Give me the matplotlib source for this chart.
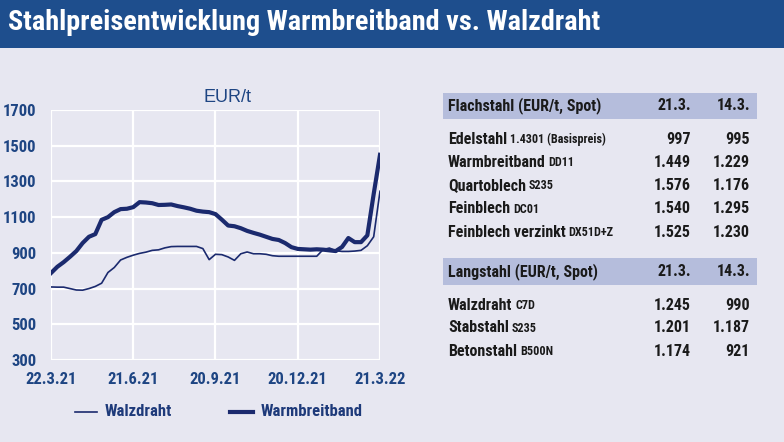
import matplotlib
matplotlib.use("Agg")
import matplotlib.pyplot as plt
from matplotlib.lines import Line2D

# ---------------- data ----------------
days = list(range(0, 365, 7))  # weekly from 22.3.21 to 21.3.22
warmbreitband = [787, 822, 848, 878, 910, 955, 990, 1005, 1085, 1100, 1128, 1145,
                 1147, 1156, 1184, 1182, 1178, 1168, 1169, 1171, 1162, 1155, 1147,
                 1136, 1131, 1128, 1117, 1086, 1053, 1049, 1038, 1023, 1012, 1002,
                 990, 978, 972, 955, 932, 922, 920, 918, 920, 918, 914, 910, 933,
                 983, 960, 960, 998, 1229, 1449]
walzdraht = [709, 708, 708, 700, 692, 691, 700, 712, 730, 790, 818, 860, 875, 887,
             897, 904, 914, 917, 928, 935, 936, 936, 936, 936, 924, 862, 892, 890,
             877, 858, 895, 905, 895, 895, 892, 884, 881, 881, 881, 881, 881, 881,
             881, 918, 927, 912, 908, 908, 910, 914, 940, 990, 1245]
x_tick_days = [0, 91, 182, 273, 364]
x_tick_labels = ["22.3.21", "21.6.21", "20.9.21", "20.12.21", "21.3.22"]
y_ticks = [300, 500, 700, 900, 1100, 1300, 1500, 1700]

title = "Stahlpreisentwicklung Warmbreitband vs. Walzdraht"

flach_header = ["Flachstahl (EUR/t, Spot)", "21.3.", "14.3."]
flach_names = ["Edelstahl", "Warmbreitband", "Quartoblech", "Feinblech", "Feinblech verzinkt"]
flach_suffix = ["1.4301 (Basispreis)", "DD11", "S235", "DC01", "DX51D+Z"]
flach_21 = ["997", "1.449", "1.576", "1.540", "1.525"]
flach_14 = ["995", "1.229", "1.176", "1.295", "1.230"]

lang_header = ["Langstahl (EUR/t, Spot)", "21.3.", "14.3."]
lang_names = ["Walzdraht", "Stabstahl", "Betonstahl"]
lang_suffix = ["C7D", "S235", "B500N"]
lang_21 = ["1.245", "1.201", "1.174"]
lang_14 = ["990", "1.187", "921"]

# ---------------- style ----------------
W, H = 784, 442
BG = "#E7E7F1"
BAR = "#1E4E8D"
NAVY = "#1B2A6E"
TICK = "#1E4583"
LEG = "#1E3A7A"
HEAD = "#B5BDDC"
TXT = "#1A1A1A"
NARROW = ["Roboto Condensed", "DejaVu Sans"]
SANS = ["Liberation Sans", "DejaVu Sans"]

fig = plt.figure(figsize=(W / 100, H / 100), dpi=100, facecolor=BG)

def fx(px):
    return px / W

def fy(py):
    return 1 - py / H

# title bar
fig.patches.append(plt.Rectangle((0, fy(48)), 1, 48 / H, transform=fig.transFigure,
                                 facecolor=BAR, edgecolor="none", zorder=0))
fig.text(fx(8), fy(23), title, color="white", fontsize=20.3, fontweight="bold",
         family=NARROW, va="center", ha="left")

# chart
ax = fig.add_axes([fx(51), fy(360), fx(380) - fx(51), (360 - 110) / H])
ax.set_facecolor(BG)
ax.plot(days, walzdraht, color=NAVY, lw=1.2, solid_joinstyle="round", zorder=3)
ax.plot(days, warmbreitband, color=NAVY, lw=3.0, solid_joinstyle="round", zorder=4)
ax.set_xlim(0, 364)
ax.set_ylim(300, 1700)
ax.set_xticks(x_tick_days)
ax.set_xticklabels(x_tick_labels)
ax.set_yticks(y_ticks)
ax.set_yticklabels([str(v) for v in y_ticks])
ax.grid(True, color="white", lw=1.6, zorder=1)
ax.set_axisbelow(True)
for s in ax.spines.values():
    s.set_visible(False)
ax.tick_params(length=0, colors=TICK)
ax.tick_params(axis="x", pad=8.5)
ax.tick_params(axis="y", pad=10.5)
for lab in ax.get_xticklabels() + ax.get_yticklabels():
    lab.set_fontfamily(NARROW)
    lab.set_fontweight("bold")
    lab.set_fontsize(12)
    lab.set_color(TICK)
ax.set_title("EUR/t", color=TICK, fontsize=13, family=SANS, pad=6, x=(228 - 51) / 329)

# legend (manual, below plot)
fig.lines.append(Line2D([fx(75), fx(97)], [fy(412), fy(412)], transform=fig.transFigure,
                        color=NAVY, lw=1.2))
fig.text(fx(105), fy(412), "Walzdraht", color=LEG, fontsize=12, fontweight="bold",
         family=NARROW, va="center")
fig.lines.append(Line2D([fx(230), fx(253)], [fy(412), fy(412)], transform=fig.transFigure,
                        color=NAVY, lw=3.0))
fig.text(fx(261), fy(412), "Warmbreitband", color=LEG, fontsize=12, fontweight="bold",
         family=NARROW, va="center")

# tables
def header(y_top, y_bot, labels):
    fig.patches.append(plt.Rectangle((fx(443), fy(y_bot)), fx(757) - fx(443), (y_bot - y_top) / H,
                                     transform=fig.transFigure, facecolor=HEAD,
                                     edgecolor="none", zorder=0))
    yc = fy((y_top + y_bot) / 2)
    fig.text(fx(448), yc, labels[0], color=TXT, fontsize=11.5, fontweight="bold",
             family=NARROW, va="center")
    fig.text(fx(691), yc, labels[1], color=TXT, fontsize=11.5, fontweight="bold",
             family=NARROW, va="center", ha="right")
    fig.text(fx(750), yc, labels[2], color=TXT, fontsize=11.5, fontweight="bold",
             family=NARROW, va="center", ha="right")

def rows(y0, dy, names, suffixes, v21, v14):
    for i, (n, s, a, b) in enumerate(zip(names, suffixes, v21, v14)):
        y = fy(y0 + i * dy)
        t = fig.text(fx(448), y, n, color=TXT, fontsize=11.5, fontweight="bold",
                     family=NARROW, va="center")
        plt.annotate(s, xy=(1, 0), xycoords=t, xytext=(2, 0.6), textcoords="offset points",
                     color=TXT, fontsize=8.7, fontweight="bold", family=NARROW,
                     va="bottom", ha="left", annotation_clip=False)
        fig.text(fx(691), y, a, color=TXT, fontsize=11.5, fontweight="bold",
                 family=NARROW, va="center", ha="right")
        fig.text(fx(750), y, b, color=TXT, fontsize=11.5, fontweight="bold",
                 family=NARROW, va="center", ha="right")

header(93, 119, flach_header)
rows(139, 23.3, flach_names, flach_suffix, flach_21, flach_14)
header(258, 285, lang_header)
rows(305, 23, lang_names, lang_suffix, lang_21, lang_14)

fig.savefig("out.png", dpi=100, facecolor=BG)
